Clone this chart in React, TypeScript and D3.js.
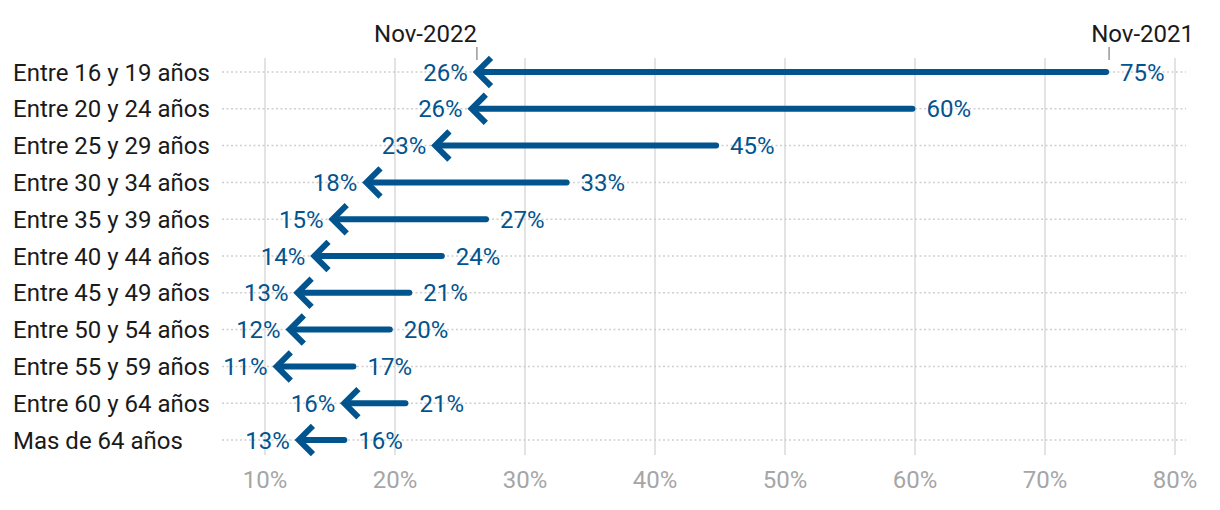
import React from "react";
import * as d3 from "d3";

const categories = [
  "Entre 16 y 19 años",
  "Entre 20 y 24 años",
  "Entre 25 y 29 años",
  "Entre 30 y 34 años",
  "Entre 35 y 39 años",
  "Entre 40 y 44 años",
  "Entre 45 y 49 años",
  "Entre 50 y 54 años",
  "Entre 55 y 59 años",
  "Entre 60 y 64 años",
  "Mas de 64 años",
];
const nov2021 = [74.7, 59.8, 44.7, 33.2, 27.0, 23.6, 21.1, 19.6, 16.8, 20.8, 16.1];
const nov2022 = [26.3, 25.9, 23.1, 17.8, 15.2, 13.8, 12.5, 11.9, 10.9, 16.1, 12.6];
const xTicks = [10, 20, 30, 40, 50, 60, 70, 80];
const seriesNames = ["Nov-2021", "Nov-2022"];

const W = 1220;
const H = 510;
const BLUE = "#02548f";
const FONT = "Roboto, 'Noto Sans', sans-serif";
const FS = 24;

export default function App() {
  const x = d3.scaleLinear().domain([10, 80]).range([265, 1175]);
  const y = d3.scalePoint<string>().domain(categories).range([72, 440]);

  const gridTop = 58;
  const gridBottom = 455;

  const tick2021 = x(nov2021[0]) + 3;
  const tick2022 = x(nov2022[0]);

  return (
    <svg
      width={W}
      height={H}
      style={{ position: "absolute", left: 0, top: 0, background: "#fff" }}
      fontFamily={FONT}
    >
      {xTicks.map((t) => (
        <g key={t}>
          <line
            x1={x(t)}
            x2={x(t)}
            y1={gridTop}
            y2={gridBottom}
            stroke="#e3e3e3"
            strokeWidth={2}
          />
          <text x={x(t)} y={488} textAnchor="middle" fontSize={FS} fill="#a6a6a6">
            {t}%
          </text>
        </g>
      ))}
      {categories.map((c) => (
        <g key={c}>
          <line
            x1={222}
            x2={1186}
            y1={y(c)!}
            y2={y(c)!}
            stroke="#cfcfcf"
            strokeWidth={1.5}
            strokeDasharray="2,2.5"
          />
          <text x={13} y={y(c)! + 8.5} fontSize={FS} fill="#1a1a1a">
            {c}
          </text>
        </g>
      ))}
      {/* series header labels */}
      <line x1={tick2021} x2={tick2021} y1={47} y2={60} stroke="#999" strokeWidth={1.5} />
      <text x={1194} y={42} textAnchor="end" fontSize={FS} fill="#1a1a1a">
        {seriesNames[0]}
      </text>
      <line x1={tick2022} x2={tick2022} y1={47} y2={60} stroke="#999" strokeWidth={1.5} />
      <text x={tick2022} y={42} textAnchor="end" fontSize={FS} fill="#1a1a1a">
        {seriesNames[1]}
      </text>
      {categories.map((c, i) => {
        const yy = y(c)!;
        const x0 = x(nov2021[i]);
        const x1 = x(nov2022[i]);
        const path = d3.path();
        path.moveTo(x1 + 12, yy - 12);
        path.lineTo(x1, yy);
        path.lineTo(x1 + 12, yy + 12);
        return (
          <g key={c}>
            <line
              x1={x0}
              x2={x1 + 2}
              y1={yy}
              y2={yy}
              stroke={BLUE}
              strokeWidth={6}
              strokeLinecap="round"
            />
            <path
              d={path.toString()}
              fill="none"
              stroke={BLUE}
              strokeWidth={6}
              strokeLinecap="square"
              strokeLinejoin="miter"
            />
            <text x={x0 + 14} y={yy + 8.5} fontSize={FS} fill={BLUE}>
              {Math.round(nov2021[i])}%
            </text>
            <text x={x1 - 9} y={yy + 8.5} textAnchor="end" fontSize={FS} fill={BLUE}>
              {Math.round(nov2022[i])}%
            </text>
          </g>
        );
      })}
    </svg>
  );
}
